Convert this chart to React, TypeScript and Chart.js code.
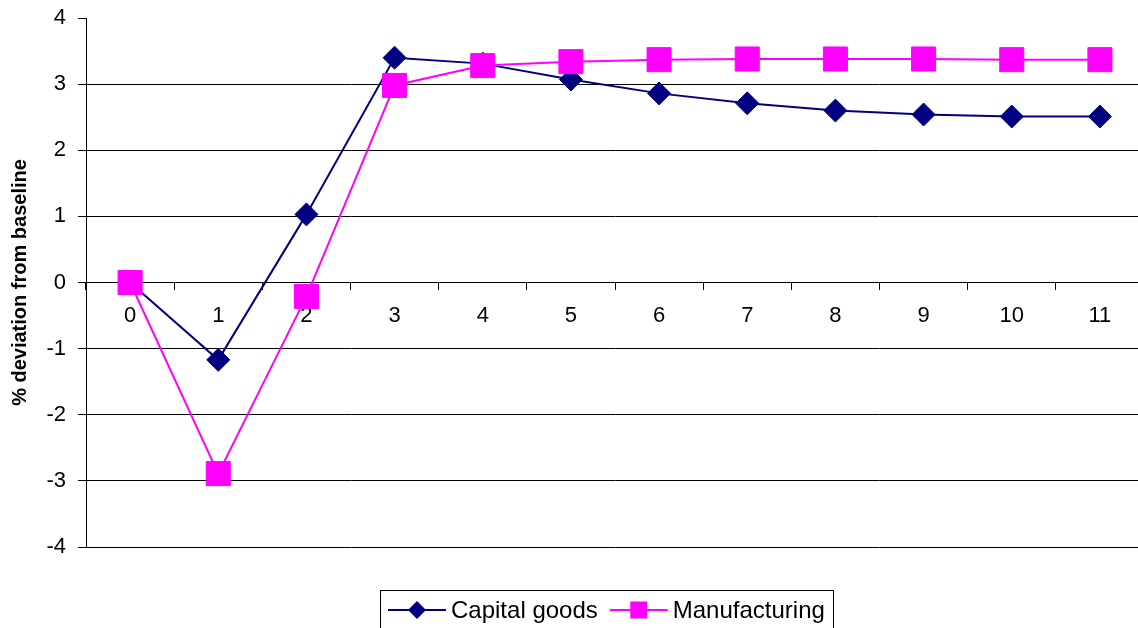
import React, { useEffect, useRef } from "react";
import { Chart, registerables } from "chart.js";

Chart.register(...registerables);

// ---- data ----
const periods: string[] = ["0", "1", "2", "3", "4", "5", "6", "7", "8", "9", "10", "11"];
const capitalGoods: number[] = [0, -1.17, 1.03, 3.4, 3.31, 3.07, 2.86, 2.71, 2.6, 2.54, 2.51, 2.51];
const manufacturing: number[] = [0, -2.89, -0.21, 2.98, 3.28, 3.34, 3.37, 3.38, 3.38, 3.38, 3.37, 3.37];
const yMin = -4;
const yMax = 4;
const yStep = 1;
const yTitle = "% deviation from baseline";
const seriesNames: string[] = ["Capital goods", "Manufacturing"];

// ---- styles ----
const FONT = "'Liberation Sans', Arial, sans-serif";
const NAVY = "#000080";
const MAGENTA = "#FF00FF";
const CANVAS_W = 1144;
const CANVAS_H = 628;
const LEGEND_CX = 606;
const LEGEND_TOP = 590;
const LEGEND_CY = 610;

const zeroPadding = (s: any) => {
  s.paddingLeft = 0;
  s.paddingRight = 0;
  s.paddingTop = 0;
  s.paddingBottom = 0;
};

const boxLegend = {
  id: "boxLegend",
  afterDraw(chart: any) {
    const ctx: CanvasRenderingContext2D = chart.ctx;
    ctx.save();
    ctx.font = `24px ${FONT}`;
    const datasets = chart.data.datasets;
    const lineW = 58;
    const gapText = 5;
    const gapItem = 12;
    const padX = 8;
    const widths = datasets.map((d: any) => ctx.measureText(d.label).width);
    let total = padX * 2 + gapItem * (datasets.length - 1);
    widths.forEach((w: number) => (total += lineW + gapText + w));
    const left = Math.round(LEGEND_CX - total / 2);
    ctx.strokeStyle = "#000";
    ctx.lineWidth = 1;
    ctx.strokeRect(left + 0.5, LEGEND_TOP + 0.5, Math.round(total), 100);
    let x = left + padX;
    datasets.forEach((d: any, i: number) => {
      const cy = LEGEND_CY;
      ctx.strokeStyle = d.borderColor;
      ctx.lineWidth = 2;
      ctx.beginPath();
      ctx.moveTo(x, cy);
      ctx.lineTo(x + lineW, cy);
      ctx.stroke();
      const mx = x + lineW / 2;
      ctx.fillStyle = d.borderColor;
      ctx.beginPath();
      if (d.pointStyle === "rectRot") {
        const r = 9;
        ctx.moveTo(mx - r, cy);
        ctx.lineTo(mx, cy - r);
        ctx.lineTo(mx + r, cy);
        ctx.lineTo(mx, cy + r);
        ctx.closePath();
      } else {
        const s = 8.5;
        ctx.rect(mx - s, cy - s, s * 2, s * 2);
      }
      ctx.fill();
      ctx.fillStyle = "#000";
      ctx.textBaseline = "middle";
      ctx.textAlign = "left";
      ctx.fillText(d.label, x + lineW + gapText, cy + 1);
      x += lineW + gapText + widths[i] + gapItem;
    });
    ctx.restore();
  },
};

export default function App() {
  const ref = useRef<HTMLCanvasElement | null>(null);

  useEffect(() => {
    document.body.style.overflow = "hidden";
    document.documentElement.style.overflow = "hidden";
    const canvas = ref.current;
    if (!canvas) return;
    const chart = new Chart(canvas, {
      type: "line",
      data: {
        labels: periods,
        datasets: [
          {
            label: seriesNames[0],
            data: capitalGoods,
            borderColor: NAVY,
            backgroundColor: NAVY,
            borderWidth: 2,
            pointStyle: "rectRot",
            pointRadius: 11.5,
            pointBackgroundColor: NAVY,
            pointBorderColor: NAVY,
            pointBorderWidth: 1,
            tension: 0,
            fill: false,
            clip: false as any,
            order: 1,
          },
          {
            label: seriesNames[1],
            data: manufacturing,
            borderColor: MAGENTA,
            backgroundColor: MAGENTA,
            borderWidth: 2,
            pointStyle: "rect",
            pointRadius: 17,
            pointBackgroundColor: MAGENTA,
            pointBorderColor: MAGENTA,
            pointBorderWidth: 1,
            tension: 0,
            fill: false,
            clip: false as any,
            order: 0,
          },
        ],
      },
      options: {
        responsive: false,
        animation: false,
        layout: { autoPadding: false, padding: { left: 0, right: 0, top: 18, bottom: 81 } },
        plugins: {
          legend: { display: false },
          tooltip: { enabled: false },
        },
        scales: {
          x: {
            type: "category",
            position: { y: 0 } as any,
            offset: true,
            afterFit: (s: any) => {
              s.height = 0;
              zeroPadding(s);
            },
            grid: {
              drawOnChartArea: false,
              drawTicks: true,
              tickLength: 7,
              offset: true,
              color: "#000",
              tickColor: "#000",
            },
            border: { display: true, color: "#000", width: 1 },
            ticks: {
              font: { family: FONT, size: 22 },
              color: "#000",
              padding: 13,
              maxRotation: 0,
              autoSkip: false,
            },
          },
          y: {
            min: yMin,
            max: yMax,
            afterFit: (s: any) => {
              s.width = 86;
              zeroPadding(s);
            },
            ticks: {
              stepSize: yStep,
              font: { family: FONT, size: 22 },
              color: "#000",
              padding: 12,
            },
            grid: {
              color: (c: any) => (c.tick && c.tick.value === yMax ? "rgba(0,0,0,0)" : "#000"),
              tickColor: "#000",
              tickLength: 8,
              lineWidth: 1,
            },
            border: { display: true, color: "#000", width: 1 },
            title: {
              display: true,
              text: yTitle,
              font: { family: FONT, size: 20, weight: "bold" },
              color: "#000",
              padding: { top: 8, bottom: 0 },
            },
          },
        },
      },
      plugins: [boxLegend],
    });
    return () => chart.destroy();
  }, []);

  return (
    <div
      style={{
        position: "fixed",
        left: 0,
        top: 0,
        width: CANVAS_W,
        height: CANVAS_H,
        overflow: "hidden",
        background: "#fff",
      }}
    >
      <canvas ref={ref} width={CANVAS_W} height={CANVAS_H} style={{ display: "block" }} />
    </div>
  );
}
